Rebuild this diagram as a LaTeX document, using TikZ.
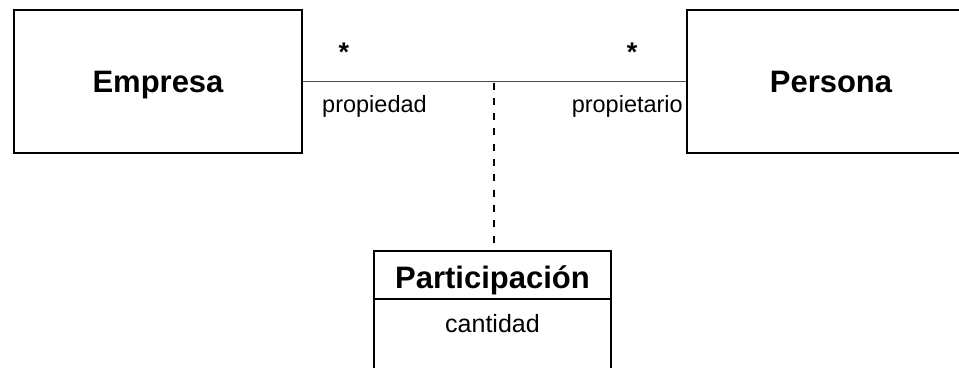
\documentclass[tikz,border=0pt]{standalone}
\usepackage{fontspec}
\setmainfont{Liberation Sans}
\begin{document}
\begin{tikzpicture}[x=1pt,y=-1pt,
  cls/.style={draw=black,line width=1.2pt,rectangle,inner sep=0pt},
  title/.style={font=\fontsize{31}{36}\selectfont\bfseries,anchor=base,inner sep=0pt},
  lbl/.style={font=\fontsize{23.5}{28}\selectfont,inner sep=0pt,anchor=base},
  star/.style={font=\fontsize{27}{30}\selectfont\bfseries,inner sep=0pt},
  assoc/.style={draw=black!70,line width=1.3pt},
  dashline/.style={draw=black,line width=2pt,dash pattern=on 7pt off 8.3pt}]
\clip (0,0) rectangle (959,367);
\useasboundingbox (0,0) rectangle (959,367);
\fill[white] (0,0) rectangle (959,367);
% classes
\node[cls,minimum width=288pt,minimum height=143pt] (emp) at (158,81.5) {};
\node[title] (empt) at (158,92) {Empresa};
\node[cls,minimum width=288pt,minimum height=143pt] (per) at (831,81.5) {};
\node[title] (pert) at (831,92) {Persona};
\node[cls,minimum width=237pt,minimum height=140pt] (part) at (492.5,321) {};
\node[title] (partt) at (492.5,288) {Participación};
\draw[cls] (part.west |- 0,299) coordinate (dl) -- (part.east |- 0,299) coordinate (dr);
\node[font=\fontsize{25}{30}\selectfont,anchor=base,inner sep=0pt] (cant) at (492.5,332) {cantidad};
% association
\draw[assoc] (emp.east) -- (per.west);
\coordinate (mid) at (494,82.5);
\draw[dashline] (mid) -- (mid |- part.north);
% labels
\node[star] (s1) at (344,52) {*};
\node[star] (s2) at (632,52) {*};
\node[lbl,anchor=base west] (r1) at (322,112) {propiedad};
\node[lbl,anchor=base east] (r2) at (683,112) {propietario};
\end{tikzpicture}
\end{document}
